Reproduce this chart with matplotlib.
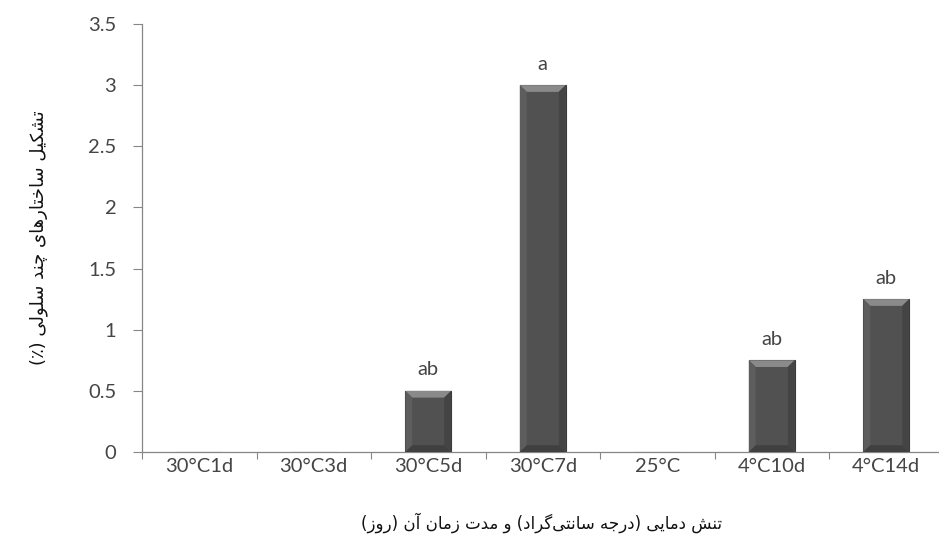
import matplotlib
matplotlib.use("Agg")
import matplotlib.pyplot as plt
from matplotlib.patches import Polygon

categories = ["30°C1d", "30°C3d", "30°C5d", "30°C7d", "25°C", "4°C10d", "4°C14d"]
values = [0, 0, 0.5, 3, 0, 0.75, 1.25]
letters = ["", "", "ab", "a", "", "ab", "ab"]
y_ticks = [0, 0.5, 1, 1.5, 2, 2.5, 3, 3.5]
y_tick_labels = ["0", "0.5", "1", "1.5", "2", "2.5", "3", "3.5"]
y_label = "تشکیل ساختارهای چند سلولی (٪)"
x_label = "تنش دمایی (درجه سانتی‌گراد) و مدت زمان آن (روز)"

# matplotlib does no arabic shaping, so pick presentation forms by hand
# (isolated, final, initial, medial); None = letter does not join forward
FORMS = {
    "ا": (0xFE8D, 0xFE8E, None, None),
    "آ": (0xFE81, 0xFE82, None, None),
    "ت": (0xFE95, 0xFE96, 0xFE97, 0xFE98),
    "ج": (0xFE9D, 0xFE9E, 0xFE9F, 0xFEA0),
    "چ": (0xFB7A, 0xFB7B, 0xFB7C, 0xFB7D),
    "خ": (0xFEA5, 0xFEA6, 0xFEA7, 0xFEA8),
    "د": (0xFEA9, 0xFEAA, None, None),
    "ر": (0xFEAD, 0xFEAE, None, None),
    "ز": (0xFEAF, 0xFEB0, None, None),
    "س": (0xFEB1, 0xFEB2, 0xFEB3, 0xFEB4),
    "ش": (0xFEB5, 0xFEB6, 0xFEB7, 0xFEB8),
    "ک": (0xFB8E, 0xFB8F, 0xFB90, 0xFB91),
    "گ": (0xFB92, 0xFB93, 0xFB94, 0xFB95),
    "ل": (0xFEDD, 0xFEDE, 0xFEDF, 0xFEE0),
    "م": (0xFEE1, 0xFEE2, 0xFEE3, 0xFEE4),
    "ن": (0xFEE5, 0xFEE6, 0xFEE7, 0xFEE8),
    "ه": (0xFEE9, 0xFEEA, 0xFEEB, 0xFEEC),
    "و": (0xFEED, 0xFEEE, None, None),
    "ی": (0xFBFC, 0xFBFD, 0xFBFE, 0xFBFF),
}


def shape(text):
    chars = list(text)
    out = []
    for i, c in enumerate(chars):
        if c == "\u200c":
            continue
        if c not in FORMS:
            out.append(c)
            continue
        prev = chars[i - 1] if i > 0 else None
        nxt = chars[i + 1] if i + 1 < len(chars) else None
        p = prev in FORMS and FORMS[prev][2] is not None
        n = FORMS[c][2] is not None and nxt in FORMS
        iso, fin, ini, med = FORMS[c]
        if p and n:
            g = med
        elif p:
            g = fin
        elif n:
            g = ini
        else:
            g = iso
        out.append(chr(g))
    mirror = {"(": ")", ")": "("}
    return "".join(mirror.get(c, c) for c in reversed(out))


plt.rcParams["font.family"] = ["Lato", "DejaVu Sans"]

fig = plt.figure(figsize=(9.39, 5.41), dpi=100)
# plot area runs past the right edge, like the cropped original
ax = fig.add_axes([142 / 939, 89 / 541, 801.5 / 939, 428 / 541])

x = list(range(len(categories)))
width = 0.4
bars = ax.bar(x, values, width=width, color="#515151", edgecolor="#3a3a3a",
              linewidth=0.8, zorder=2)

# bevel look on the bars
dx, dy = 0.06, 0.055
for b in bars:
    h = b.get_height()
    if h <= 0:
        continue
    x0 = b.get_x()
    x1 = x0 + b.get_width()
    top = Polygon([(x0, h), (x1, h), (x1 - dx, h - dy), (x0 + dx, h - dy)],
                  closed=True, facecolor="#8a8a8a", edgecolor="none", zorder=3)
    right = Polygon([(x1, h), (x1, 0), (x1 - dx, dy), (x1 - dx, h - dy)],
                    closed=True, facecolor="#444444", edgecolor="none", zorder=3)
    left = Polygon([(x0, h), (x0, 0), (x0 + dx, dy), (x0 + dx, h - dy)],
                   closed=True, facecolor="#5d5d5d", edgecolor="none", zorder=3)
    bottom = Polygon([(x0, 0), (x1, 0), (x1 - dx, dy), (x0 + dx, dy)],
                     closed=True, facecolor="#404040", edgecolor="none", zorder=3)
    for poly in (top, right, left, bottom):
        ax.add_patch(poly)

for xi, v, lab in zip(x, values, letters):
    if lab:
        ax.annotate(lab, (xi, v), xytext=(0, 9), textcoords="offset points",
                    ha="center", va="bottom", fontsize=14.5, color="#454545")

ax.set_xlim(-0.5, len(categories) - 0.5)
ax.set_ylim(0, 3.5)
ax.set_yticks(y_ticks)
ax.set_yticklabels(y_tick_labels)
ax.set_xticks(x)
ax.set_xticklabels(categories)
ax.set_xticks([i - 0.5 for i in range(len(categories) + 1)], minor=True)

ax.tick_params(axis="y", direction="out", length=6.5, width=0.8, color="#868686",
               pad=12, labelsize=14.5, labelcolor="#454545")
ax.tick_params(axis="x", which="major", length=0, pad=4, labelsize=14.5,
               labelcolor="#454545")
ax.tick_params(axis="x", which="minor", direction="out", length=5, width=0.8,
               color="#868686")

for s in ("top", "right"):
    ax.spines[s].set_visible(False)
for s in ("left", "bottom"):
    ax.spines[s].set_color("#868686")
    ax.spines[s].set_linewidth(0.9)

ax.set_ylabel(shape(y_label), family=["DejaVu Sans"], fontsize=13, color="#111111",
              labelpad=29)
fig.text(542 / 939, 1 - 523 / 541, shape(x_label), family=["DejaVu Sans"],
         fontsize=12, color="#111111", ha="center", va="center")

fig.savefig("out.png", dpi=100)
